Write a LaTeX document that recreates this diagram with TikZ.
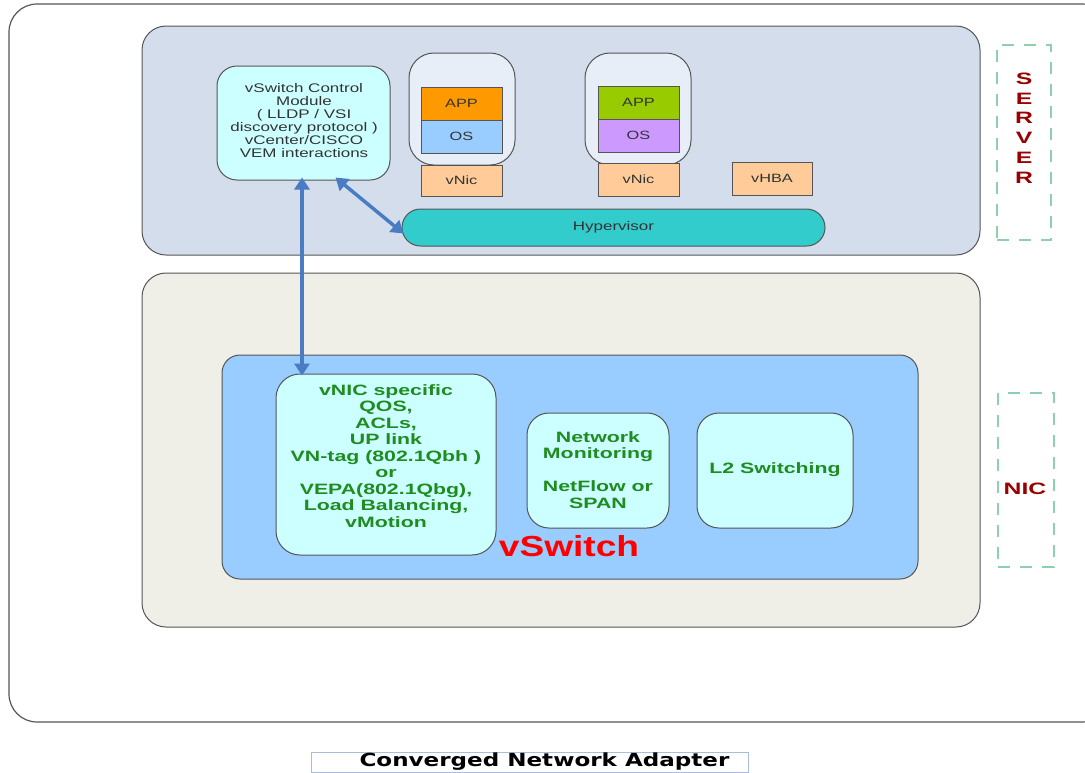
\documentclass[tikz,border=0pt]{standalone}
\usepackage{fontspec}
\setmainfont{Liberation Sans}
\newfontfamily\wfont[FakeStretch=1.36]{Liberation Sans}
\newfontfamily\gfont[FakeStretch=1.42]{Liberation Sans}
\newfontfamily\rfont[FakeStretch=1.28]{Liberation Sans}
\newfontfamily\sfont[FakeStretch=1.5]{Liberation Sans}
\newfontfamily\capfont[FakeStretch=1.28]{DejaVu Sans}
\usetikzlibrary{arrows.meta}
\definecolor{serverbg}{HTML}{D3DDEC}
\definecolor{nicbg}{HTML}{EFEFE8}
\definecolor{vswbg}{HTML}{99CCFF}
\definecolor{cyanbox}{HTML}{CCFFFF}
\definecolor{vmbg}{HTML}{E8EEF8}
\definecolor{apporange}{HTML}{FF9900}
\definecolor{osblue}{HTML}{99CCFF}
\definecolor{appgreen}{HTML}{99CC00}
\definecolor{ospurple}{HTML}{CC99FF}
\definecolor{peach}{HTML}{FFCC99}
\definecolor{hypcol}{HTML}{33CCCC}
\definecolor{arrowblue}{HTML}{4A7CC4}
\definecolor{dashgreen}{HTML}{8ED0AE}
\definecolor{darkred}{HTML}{990000}
\definecolor{txtgreen}{HTML}{1E8C1E}
\definecolor{bordergray}{HTML}{555555}
\definecolor{capborder}{HTML}{A9BCD9}
\begin{document}
\begin{tikzpicture}[x=1pt,y=-1pt,
  panel/.style={draw=bordergray, line width=1pt, rounded corners=24pt},
  rbox/.style={draw=bordergray, line width=1pt, inner sep=0pt, align=center},
  sq/.style={draw=bordergray, line width=0.8pt, inner sep=0pt, minimum width=81pt, font=\wfont\fontsize{12}{14}\selectfont, text=black!80},
  greentext/.style={text=txtgreen, font=\gfont\fontsize{15}{16.5}\selectfont\bfseries, align=center},
  dashbox/.style={draw=dashgreen, line width=2pt, dash pattern=on 12pt off 10pt, inner sep=0pt},
  arr/.style={draw=arrowblue, line width=3.5pt, {Triangle[length=12pt,width=15pt]}-{Triangle[length=12pt,width=15pt]}},
  sidelabel/.style={text=darkred, font=\sfont\fontsize{16.5}{19.8}\selectfont\bfseries, align=center, inner sep=0pt}
]
\useasboundingbox (0,0) rectangle (1085,772);

% outer frame
\draw[draw=bordergray, line width=1.2pt, rounded corners=28pt] (9,4) rectangle (1110,722);

% server and nic panels
\node (server) [panel, fill=serverbg, minimum width=838pt, minimum height=229pt] at (561,140.5) {};
\node (nic) [panel, fill=nicbg, minimum width=838pt, minimum height=354pt] at (561,450) {};
\node (vsw) [panel, rounded corners=18pt, fill=vswbg, minimum width=696pt, minimum height=224pt] at (570,467) {};

% control module
\node (ctrl) [rbox, rounded corners=20pt, fill=cyanbox, minimum width=173pt, minimum height=114pt] at (303.5,123) {};
\node (ctrltext) [align=center, inner sep=0pt, font=\wfont\fontsize{12.5}{13}\selectfont, text=black!80] at (304,120.5)
  {vSwitch Control\\Module\\( LLDP / VSI\\discovery protocol )\\vCenter/CISCO\\VEM interactions};

% VM 1
\node (vm1) [panel, rounded corners=25pt, fill=vmbg, minimum width=106pt, minimum height=112pt] at (462,109) {};
\node (app1) [sq, fill=apporange, minimum height=33pt] at (461.5,103.5) {APP};
\node (os1) [sq, fill=osblue, minimum height=33pt] at (461.5,136.5) {OS};
\node (vnic1) [sq, fill=peach, minimum height=31pt] at (461.5,180.5) {vNic};

% VM 2
\node (vm2) [panel, rounded corners=25pt, fill=vmbg, minimum width=106pt, minimum height=112pt] at (638,109) {};
\node (app2) [sq, fill=appgreen, minimum height=33pt] at (638.5,102.5) {APP};
\node (os2) [sq, fill=ospurple, minimum height=33pt] at (638.5,135.5) {OS};
\node (vnic2) [sq, fill=peach, minimum height=33pt] at (638.5,179.5) {vNic};

\node (vhba) [sq, fill=peach, minimum width=80pt, minimum height=33pt] at (772,178.5) {vHBA};

% hypervisor
\node (hyp) [rbox, fill=hypcol, rounded corners=18.5pt, minimum width=423pt, minimum height=37pt,
  font=\wfont\fontsize{12.5}{14}\selectfont, text=black!80] at (613.5,227.5) {Hypervisor};

% NIC inner boxes
\node (vnicsp) [rbox, rounded corners=24pt, fill=cyanbox, minimum width=220pt, minimum height=181pt] at (386,464.5) {};
\node (vnicsptext) [greentext, anchor=north] at (386,381) {vNIC specific\\QOS,\\ACLs,\\UP link\\VN-tag (802.1Qbh )\\or\\VEPA(802.1Qbg),\\Load Balancing,\\vMotion};

\node (mon) [rbox, rounded corners=22pt, fill=cyanbox, minimum width=142pt, minimum height=115pt] at (598,470.5) {};
\node (montext) [greentext] at (598,470) {Network\\Monitoring\\[16.5pt]NetFlow or\\SPAN};

\node (l2) [rbox, rounded corners=22pt, fill=cyanbox, minimum width=156pt, minimum height=115pt] at (775,470.5) {};
\node (l2text) [greentext] at (775,470) {L2 Switching};

\node (vswtext) [text=red, font=\rfont\fontsize{29}{30}\selectfont\bfseries, inner sep=0pt] at (569,546) {vSwitch};

% arrows
\draw[arr] ([xshift=-1.5pt,yshift=3pt]ctrl.south) -- ([xshift=-84pt,yshift=-2pt]vnicsp.north);
\draw[arr] ([xshift=32pt,yshift=3pt]ctrl.south) -- ([xshift=2pt,yshift=-6pt]hyp.west);

% side labels
\node (serverbox) [dashbox, minimum width=54pt, minimum height=195pt] at (1024,142.5) {};
\node (serverlbl) [sidelabel] at (1024,128) {S\\E\\R\\V\\E\\R};
\node (nicbox) [dashbox, minimum width=56pt, minimum height=174pt] at (1026,480) {};
\node (niclbl) [sidelabel] at (1025,489) {NIC};

% caption
\node (cap) [draw=capborder, line width=0.8pt, minimum width=437pt, minimum height=20pt, inner sep=0pt,
  font=\capfont\fontsize{18}{18}\selectfont\bfseries] at (529.5,762) {\hspace*{30pt}Converged Network Adapter};
\end{tikzpicture}
\end{document}
